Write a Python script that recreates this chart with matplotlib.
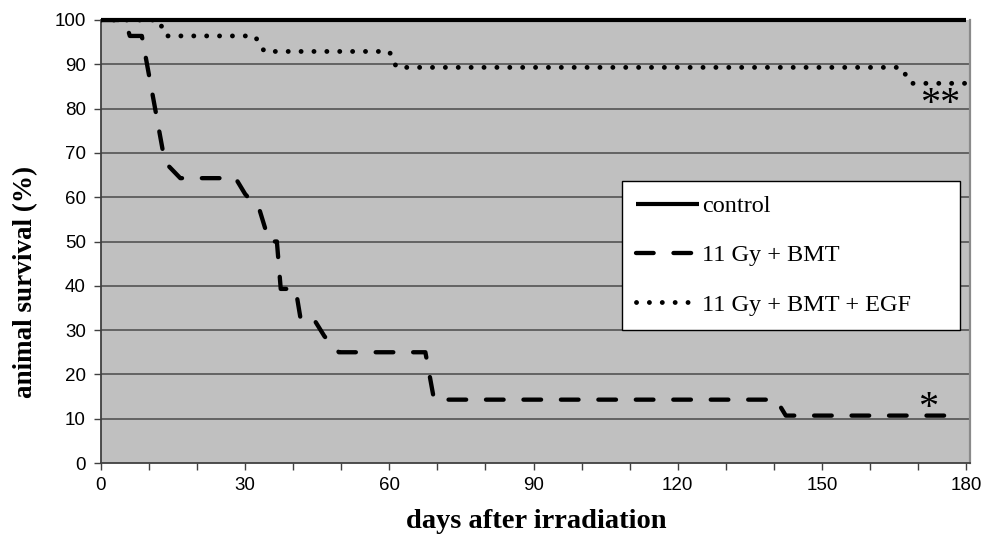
import matplotlib
matplotlib.use("Agg")
import matplotlib.pyplot as plt

# Survival curves (percent of animals alive vs. days after irradiation)
days_control = [0, 180]
surv_control = [100, 100]

days_bmt = [0, 5, 6, 8.5, 13.3, 16.5, 28, 30, 33, 35, 36.6, 37.4, 40.5, 41.6,
            44.5, 46.5, 49.5, 67.5, 69.3, 140.5, 142.5, 179]
surv_bmt = [100, 100, 96.4, 96.4, 67.9, 64.3, 64.3, 60.7, 57.1, 50, 50, 39.3,
            39.3, 32.1, 32.1, 28.6, 25, 25, 14.3, 14.3, 10.7, 10.7]

days_egf = [0, 12, 13.5, 32, 34, 60, 61.5, 166.5, 168.5, 180]
surv_egf = [100, 100, 96.4, 96.4, 92.9, 92.9, 89.3, 89.3, 85.7, 85.7]

labels = ["control", "11 Gy + BMT", "11 Gy + BMT + EGF"]
x_ticks = [0, 30, 60, 90, 120, 150, 180]
y_ticks = [0, 10, 20, 30, 40, 50, 60, 70, 80, 90, 100]

W, H = 989, 538
fig = plt.figure(figsize=(W / 100, H / 100), dpi=100)
fig.patch.set_facecolor("white")
ax = fig.add_axes([101 / W, 1 - 463 / H, (970 - 101) / W, (463 - 20) / H])
ax.set_facecolor("#c0c0c0")

ax.set_xlim(0, 180.83)
ax.set_ylim(0, 100)

# horizontal grid
for v in y_ticks[1:-1]:
    ax.axhline(v, color="#4a4a4a", lw=1.1, zorder=1)

l_egf, = ax.plot(days_egf, surv_egf, color="black", lw=3.5,
                 linestyle=(0, (0.01, 2.64)), dash_capstyle="round",
                 solid_capstyle="round", zorder=3)
l_bmt, = ax.plot(days_bmt, surv_bmt, color="black", lw=3.1,
                 linestyle=(0, (4.1, 4.6)), dash_capstyle="round",
                 dash_joinstyle="round", zorder=3)
l_ctrl, = ax.plot(days_control, surv_control, color="black", lw=3.0,
                  solid_capstyle="butt", zorder=5, clip_on=False)

# significance marks
ax.text(172.1, 12.4, "*", fontsize=29, family="Liberation Serif",
        ha="center", va="center", zorder=6)
ax.text(174.6, 81.0, "**", fontsize=29, family="Liberation Serif",
        ha="center", va="center", zorder=6)

# axes styling
ax.spines["top"].set_visible(False)
ax.spines["left"].set_color("#404040")
ax.spines["left"].set_linewidth(1.3)
ax.spines["bottom"].set_color("#404040")
ax.spines["bottom"].set_linewidth(1.3)
ax.spines["right"].set_color("#8a8a8a")
ax.spines["right"].set_linewidth(1.6)

ax.set_xticks(range(0, 181, 10), minor=True)
ax.set_xticks(x_ticks)
ax.set_xticklabels([str(t) for t in x_ticks])
ax.set_yticks(y_ticks)
ax.set_yticklabels([str(t) for t in y_ticks])
ax.tick_params(axis="both", which="both", direction="out", length=5,
               width=1, color="#404040", labelsize=13.5, labelcolor="black")
ax.tick_params(axis="x", which="major", pad=5)
ax.tick_params(axis="y", which="major", pad=6)
for lab in ax.get_xticklabels() + ax.get_yticklabels():
    lab.set_family("Liberation Sans")

fig.text(536 / W, 1 - 522 / H, "days after irradiation", family="Liberation Serif",
         fontweight="bold", fontsize=20.5, ha="center", va="center")
fig.text(26 / W, 1 - 282 / H, "animal survival (%)", family="Liberation Serif",
         fontweight="bold", fontsize=19.5, ha="center", va="center", rotation=90)

# legend box spans a fixed width inside the plot
leg_x0, leg_x1, leg_top = 622, 960, 181
leg = ax.legend([l_ctrl, l_bmt, l_egf], labels,
                loc="upper left", mode="expand",
                bbox_to_anchor=(leg_x0 / W, 1 - leg_top / H - 0.01,
                                (leg_x1 - leg_x0) / W, 0.01),
                bbox_transform=fig.transFigure,
                prop={"family": "Liberation Serif", "size": 17.5},
                frameon=True, fancybox=False, framealpha=1, edgecolor="black",
                facecolor="white", handlelength=2.6, handletextpad=0.1,
                labelspacing=1.12, borderpad=0.58, borderaxespad=0)
leg.get_frame().set_linewidth(1.0)

fig.savefig("out.png", dpi=100, facecolor="white")
